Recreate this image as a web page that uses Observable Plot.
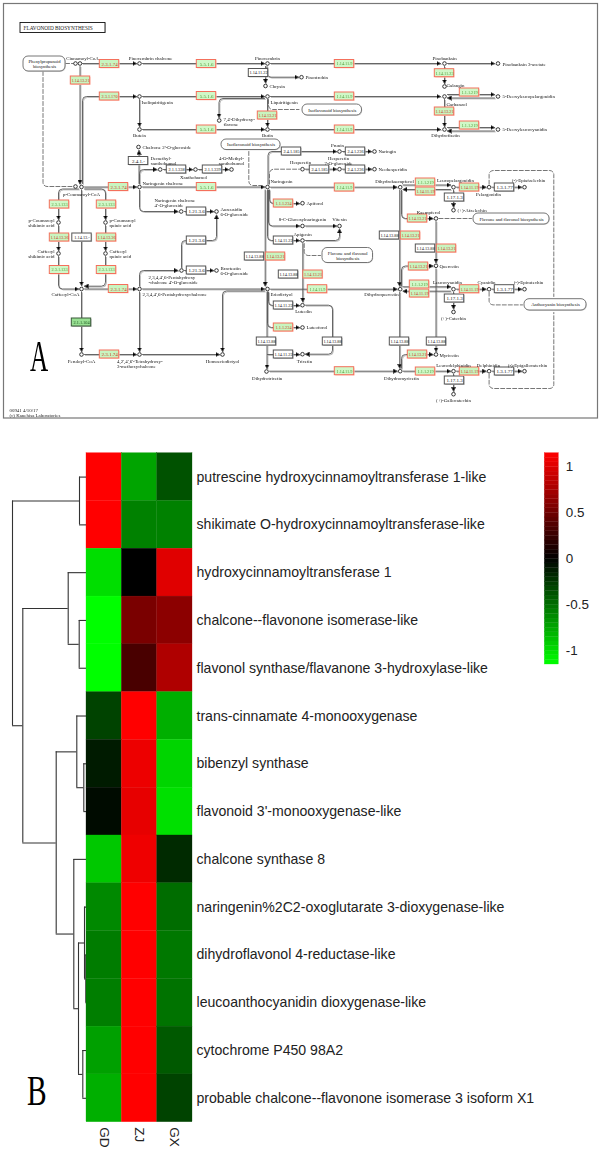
<!DOCTYPE html>
<html>
<head>
<meta charset="utf-8">
<script src="https://cdn.jsdelivr.net/npm/d3@7"></script>
<script src="https://cdn.jsdelivr.net/npm/@observablehq/plot@0.6"></script>
<style>
html,body{margin:0;padding:0;background:#fff}
#page{position:relative;width:602px;height:1150px;overflow:hidden;background:#fff}
#page svg{position:absolute;background:transparent;max-width:none}
.letter{position:absolute;font-family:"Liberation Serif",serif;color:#000;line-height:1;transform-origin:0 0}
</style>
</head>
<body>
<div id="page"></div>
<script>
// ---------- Panel B data ----------
const genes = [
  "putrescine hydroxycinnamoyltransferase 1-like",
  "shikimate O-hydroxycinnamoyltransferase-like",
  "hydroxycinnamoyltransferase 1",
  "chalcone--flavonone isomerase-like",
  "flavonol synthase/flavanone 3-hydroxylase-like",
  "trans-cinnamate 4-monooxygenase",
  "bibenzyl synthase",
  "flavonoid 3'-monooxygenase-like",
  "chalcone synthase 8",
  "naringenin%2C2-oxoglutarate 3-dioxygenase-like",
  "dihydroflavonol 4-reductase-like",
  "leucoanthocyanidin dioxygenase-like",
  "cytochrome P450 98A2",
  "probable chalcone--flavonone isomerase 3 isoform X1"
];
const samples = ["GD","ZJ","GX"];
const valuesGD = [1.15,1.15,-1.0,-1.15,-1.15,-0.3,-0.12,-0.05,-0.9,-0.62,-0.56,-0.57,-0.72,-0.79];
const valuesZJ = [-0.74,-0.58,0,0.55,0.33,1.15,1.07,1.04,1.08,1.15,1.15,1.15,1.15,1.15];
const valuesGX = [-0.37,-0.58,1.01,0.63,0.79,-0.79,-0.96,-1.01,-0.19,-0.49,-0.54,-0.52,-0.4,-0.3];
const colorTicks = [-1,-0.5,0,0.5,1];
// hclust-style merges: negative = leaf (row), positive = earlier merge; third value = height
const merges = [
  [-1,-2,7],[-4,-5,7.3],[-3,2,18.3],[-7,-8,2.7],[-6,4,9.7],[-11,-12,0.7],[-10,6,2],
  [-13,-14,3.7],[7,8,8],[-9,9,12.7],[5,10,30.3],[3,11,63.7],[1,12,74]
];

// ---------- Panel A data (KEGG map layout units) ----------
const hitsRed = [
  ["2.3.1.74",109,63.5],["1.14.13.21",80,80],["2.3.1.170",109,96],["1.14.13.21",267,115],
  ["1.14.13.21",444,111],["2.3.1.74",118,186.5],["1.1.1.234",283,203],["1.14.11.19",425,191],
  ["1.14.11.19",469,187],["1.14.13.36",59,237],["1.14.13.36",106,237],["2.3.1.74",118,288.5],
  ["2.3.1.74",109,354],["1.14.13.21",275,256],["1.14.13.21",312.5,274],["1.14.13.21",410,235],
  ["1.14.13.21",446,248],["1.14.13.21",417,218],["1.14.13.21",418,266],["1.14.13.21",417,354],
  ["1.14.11.19",419,293],["1.14.11.19",469,288.7],["1.14.11.19",469,371],["1.1.1.234",283,327]
];
const hitsGreen = [
  ["5.5.1.6",206,63.5],["1.14.11.9",344,63.5],["1.14.11.23",444,72.7],["5.5.1.6",206,95.5],
  ["1.14.11.9",344,96],["1.1.1.219",469,92],["5.5.1.6",206,129],["1.14.11.9",344,129],
  ["1.1.1.219",469,125],["5.5.1.6",206,186.5],["1.14.11.9",344,187],["1.1.1.219",425,182],
  ["2.3.1.133",59,204],["2.3.1.133",106,204],["2.3.1.133",59,269.5],["2.3.1.133",106,269.5],
  ["1.14.11.9",317,288.7],["1.1.1.219",419,284],["1.14.11.9",344,370.7],["1.1.1.219",425,371]
];
const hitsDark = [["2.1.1.104",81,322]];
const plainEnzymes = [
  ["1.14.11.22",258,72.5],["2.4.1.-",138,160.5],["2.1.1.338",176,169],["2.1.1.339",212,169],
  ["1.21.3.6",196,211],["1.21.3.6",196,240],["1.21.3.6",196,270],["2.4.1.185",291,151],
  ["2.4.1.236",355,151],["2.4.1.185",319,169],["2.4.1.236",355,169],["1.14.11.22",283,240],
  ["1.14.11.22",283,305],["1.14.11.22",283,354],["1.14.13.88",254,256],["1.14.13.88",288,274],
  ["1.14.13.88",389,235],["1.14.13.88",425,248],["1.14.13.88",266,341],["1.14.13.88",332,341],
  ["1.14.13.88",399,341],["1.14.13.88",436,341],["1.17.1.3",454,197],["1.17.1.3",454,298],
  ["1.17.1.3",454,380],["1.3.1.77",504,187],["1.3.1.77",504,288.7],["1.3.1.77",504,371],
  ["1.14.13.-",81.5,237]
];
// circle x, circle y, name, label x, label y, label anchor
const compounds = [
  [75,63,"",0,0,"m"],[79.5,63,"Cinnamoyl-CoA",82,57.5,"m"],[139,63,"Pinocembrin chalcone",150,57.5,"m"],
  [267,63,"Pinocembrin",267,57.5,"m"],[265,85.5,"Chrysin",269,86,"s"],[301,76.7,"Pinostrobin",305,77,"s"],
  [444,63,"Pinobanksin",444,57.5,"m"],[497.5,63,"Pinobanksin 3-acetate",502,63.5,"s"],[444,86,"Galangin",446,85,"s"],
  [139,96,"Isoliquiritigenin",141,102,"s"],[267,96,"Liquiritigenin",270,102,"s"],
  [139,129,"Butein",139,134.5,"m"],[267,129,"Butin",267,134.5,"m"],[444,96,"Garbanzol",446,103.5,"s"],
  [497.5,96,"5-Deoxyleucopelargonidin",502,96.3,"s"],[444,129,"Dihydrofisetin",445,134.7,"m"],
  [497.5,129,"5-Deoxyleucocyanidin",502,129,"s"],[218.7,120,"7,4'-Dihydroxy-\nflavone",223,121.5,"s"],
  [138,146.5,"Chalcone 2'-O-glucoside",142,147,"s"],[159.7,169,"Demethyl-\nxanthohumol",150,160.5,"s"],
  [195,169,"Xanthohumol",193,176.5,"m"],[231,169,"4-O-Methyl-\nxanthohumol",231,160.5,"m"],
  [139,186.5,"Naringenin chalcone",142,182.5,"s"],[267,186.5,"Naringenin",270,180.5,"s"],
  [75,186,"",0,0,"m"],[81,186.5,"p-Coumaroyl-CoA",81,194,"m"],
  [58,222,"p-Coumaroyl\nshikimic acid",54,222.5,"e"],[105,222,"p-Coumaroyl\nquinic acid",109,222.5,"s"],
  [58,253,"Caffeoyl\nshikimic acid",54,253.5,"e"],[105,253,"Caffeoyl\nquinic acid",109,253.5,"s"],
  [81,288.5,"Caffeoyl-CoA",65,294,"m"],[81,354,"Feruloyl-CoA",81,361,"m"],
  [139,288.5,"2,3,4,4',6-Pentahydroxychalcone",142,294,"s"],
  [181,270,"2,3,4,4',6-Pentahydroxy\n-chalcone 4'-O-glucoside",148,279.5,"s"],
  [180.7,211,"Naringenin chalcone\n4'-O-glucoside",154,202.5,"s"],
  [216,211,"Aureusidin\n6-O-glucoside",220,211.5,"s"],[216,270,"Bracteatin\n6-O-glucoside",220,270.5,"s"],
  [139,354,"4,2',4',6'-Tetrahydroxy-\n3-methoxychalcone",116.5,363.5,"s"],
  [222,354,"Homoeriodictyol",222,361,"m"],[267,288.5,"Eriodictyol",270,294,"s"],
  [266,371,"Dihydrotricetin",266.7,378,"m"],[339,151,"Prunin",337,144.5,"m"],[374,151,"Naringin",378,151.3,"s"],
  [302,168.7,"Hesperetin",300,162,"m"],[339,168.7,"Hesperetin\n7-O-glucoside",338,160.5,"m"],
  [374,168.7,"Neohesperidin",378,169,"s"],[399.7,186.7,"Dihydrokaempferol",394,180.5,"m"],
  [302,202.7,"Apiforol",306,203,"s"],[302,225.5,"8-C-Glucosylnaringenin",302,219,"m"],
  [339,225.5,"Vitexin",339,219,"m"],[302,240,"Apigenin",302,234,"m"],[302,304.7,"Luteolin",303,311,"m"],
  [302,327,"Luteoforol",306,327.3,"s"],[302,353.7,"Tricetin",304,360.5,"m"],
  [399.7,288.7,"Dihydroquercetin",381,294,"m"],[399.7,370.7,"Dihydromyricetin",401,378,"m"],
  [435.5,218,"Kaempferol",428,211.5,"m"],[435.5,265.3,"Quercetin",439,266,"s"],[435.5,354,"Myricetin",439,354.5,"s"],
  [453,186.7,"Leucopelargonidin",455,180,"m"],[488.6,186.7,"Pelargonidin",488,193.5,"m"],
  [524,186.7,"(-)-Epiafzelechin",528,180,"m"],[453,209.7,"(+)-Afzelechin",457,210,"s"],
  [453,288.7,"Leucocyanidin",447,282,"m"],[488.6,288.7,"Cyanidin",486,282,"m"],
  [524,288.7,"(-)-Epicatechin",528,282,"m"],[453,311.5,"(+)-Catechin",453,318,"m"],
  [453,370.7,"Leucodelphinidin",453,365,"m"],[488.6,370.7,"Delphinidin",488,365,"m"],
  [524,370.7,"(-)-Epigallocatechin",527,365,"m"],[453,393.7,"(+)-Gallocatechin",453,400,"m"]
];
// rounded pathway boxes: x1, x2, y1, y2, text
const pathwayBoxes = [
  [23,65,56,71,"Phenylpropanoid\nbiosynthesis"],[221,280,139,149.5,"Isoflavonoid biosynthesis"],
  [302,361.5,104,115,"Isoflavonoid biosynthesis"],[322,372.5,247.5,262.5,"Flavone and flavonol\nbiosynthesis"],
  [473,549,213,224,"Flavone and flavonol biosynthesis"],[524,586,298.7,310,"Anthocyanin biosynthesis"]
];
// reaction lines as x,y,x,y,...
const arrowEdges = [
  [82,63,136,63],[142,63,264,63],[270,63,440,63],[447,63,494,63],[444,66,444,83],
  [266.5,66,266.5,76.7,298,76.7],[265,66,265,82.5],[79.5,66,79.5,183.5],[82,183,82,96,136,96],
  [142,96,264,96],[270,96,440,96],[139,99,139,126],[142,129,264,129],[270,129,440,129],[267,99,267,126],
  [264,98,218.5,98,218.5,117],[444,99,444,126],[447,94,494,94],[494,97.5,447,97.5],[447,127,494,127],[494,130.5,447,130.5],
  [138.5,183,138.5,150],[139,183,139,169,156.5,169],[163,169,192,169],[198,169,228,169],
  [84,186.5,136,186.5],[142,186.5,264,186.5],[270,186.7,396.5,186.7],[139,189.5,139,211,177.5,211],
  [184,211,213,211],[184,270,213,270],[181,267,181,240,216,240,216,214.5],[139,291.5,139,351],
  [139,285.5,139,270,177.5,270],[142,288.5,264,288.5],[78,188.5,58,188.5,58,219],[84,188.5,105,188.5,105,219],
  [58,225,58,250],[105,225,105,250],[58,256,58,288.5,78,288.5],[105,256,105,285.7,84,285.7],
  [81,189.5,81,285],[81,291.5,81,351],[84,288.5,136,288.5],[84,354,136,354],[142,354,219,354],
  [264,290.5,222,290.5,222,351],[264.7,189.5,264.7,285.5],[267.5,183.5,267.5,151,336,151],
  [342,151,371,151],[305,168.7,336,168.7],[342,168.7,371,168.7],[269,189.5,269,203,299,203],
  [268,189.5,268,225.5,299,225.5],[305,225.5,336,225.5],[267,189.5,267,240,299,240],
  [305,240,339,240,339,228.5],[302.3,243,302.3,301.5],[268,291.5,268,305,299,305],[267,291.5,267,327,299,327],
  [266.5,291.5,266.5,368],[305,304.7,332,304.7,332,353.7,305,353.7],[267,354,299,354],[269,370.7,396.7,370.7],
  [270,288.7,396.7,288.7],[399.2,189.7,399.2,285.7],[399.2,291.7,399.2,367.7],[401,189.7,401,218,432.5,218],
  [435.5,221,435.5,262.3],[435.5,268.3,435.5,351],[401,285.7,401,265.5,432.5,265.5],[401,367.7,401,354,432.5,354],
  [402.5,184.5,450,184.5],[450,189,402.5,189],[456,186.7,485.6,186.7],[491.6,186.7,521,186.7],[453,189.7,453,206.7],
  [402.5,286.3,450,286.3],[450,290.7,402.5,290.7],[456,288.7,485.6,288.7],[491.6,288.7,521,288.7],[453,291.7,453,308.5],
  [402.7,370.7,450,370.7],[456,370.7,485.6,370.7],[491.6,370.7,521,370.7],[453,373.7,453,390.7]
];
const dashedEdges = [
  [42.5,71,42.5,186,73,186],[65,63,73,63],[268,99,268,109,298.5,109],[248.3,151,248.3,185,261,185],
  [269,183.5,269,168.7,299,168.7],[303.7,243,303.7,255,320,255],[438.5,218,471,218],
  [488.6,183.7,488.6,170,553.3,170,553.3,296],[488.6,291.7,488.6,304.4,522,304.4],[488.6,373.7,488.6,388,553.3,388,553.3,312]
];
const mapTitle = "FLAVONOID BIOSYNTHESIS";
const mapCredit = "00941 4/10/17\n(c) Kanehisa Laboratories";

// ---------- helpers ----------
const page = document.getElementById("page");
function place(svg, left, top){ svg.style.left = left+"px"; svg.style.top = top+"px"; page.appendChild(svg); return svg; }
const toLine = list => list.flatMap((e,i)=>{ const out=[]; for(let k=0;k<e.length;k+=2) out.push({id:i,x:e[k],y:e[k+1]}); return out; });
const rounded = ctx => { let p; return {
  areaStart(){},areaEnd(){},lineStart(){p=[];},
  point(x,y){p.push([x,y]);},
  lineEnd(){ ctx.moveTo(p[0][0],p[0][1]);
    for(let i=1;i<p.length-1;i++) ctx.arcTo(p[i][0],p[i][1],p[i+1][0],p[i+1][1],4);
    ctx.lineTo(p[p.length-1][0],p[p.length-1][1]); } }; };
const headMarker = (color, context) => {
  const ns="http://www.w3.org/2000/svg", doc=context.document;
  const m=doc.createElementNS(ns,"marker");
  m.setAttribute("viewBox","-4 -2.5 4.5 5"); m.setAttribute("markerUnits","userSpaceOnUse");
  m.setAttribute("markerWidth","4.5"); m.setAttribute("markerHeight","5");
  m.setAttribute("refX","0"); m.setAttribute("refY","0"); m.setAttribute("orient","auto");
  const a=doc.createElementNS(ns,"path"); a.setAttribute("d","M-4,-2.2L0,0L-4,2.2Z"); a.setAttribute("fill","#000");
  m.appendChild(a); return m; };
const toEnz = ([label,x,y]) => ({label,x,y});
const boxW = 9.7, boxH = 4;
const enzymeMarks = (list, opt) => {
  const d = list.map(toEnz);
  return [
    Plot.rect(d,{x1:e=>e.x-boxW+0.9,x2:e=>e.x+boxW+0.9,y1:e=>e.y-boxH+0.9,y2:e=>e.y+boxH+0.9,fill:opt.shadow}),
    Plot.rect(d,{x1:e=>e.x-boxW,x2:e=>e.x+boxW,y1:e=>e.y-boxH,y2:e=>e.y+boxH,fill:opt.fill,stroke:opt.stroke,strokeWidth:1}),
    Plot.text(d,{x:"x",y:"y",text:"label",fill:opt.text,fontSize:e=>e.label.length>=9?4.3:5})
  ];
};
const labelMarks = a => Plot.text(
  compounds.filter(c=>c[2] && c[5]===a).map(c=>({t:c[2],x:c[3],y:c[4]})),
  {x:"x",y:"y",text:"t",textAnchor:{s:"start",m:"middle",e:"end"}[a],fontSize:4.9,fill:"#111",lineHeight:1.05}
);

// ---------- Panel A ----------
const lineData = toLine(arrowEdges), dashData = toLine(dashedEdges);
const bx = pathwayBoxes.map(([x1,x2,y1,y2,t])=>({x1,x2,y1,y2,t,cx:(x1+x2)/2,cy:(y1+y2)/2}));
const panelA = Plot.plot({
  width:602,height:420,margin:0,
  style:{fontFamily:"'Liberation Serif',serif",background:"transparent"},
  x:{domain:[0,602],range:[0,602],axis:null},
  y:{domain:[0,420],range:[0,420],axis:null},
  marks:[
    Plot.rect([{x1:3.5,x2:597.5,y1:3.5,y2:418}],{x1:"x1",x2:"x2",y1:"y1",y2:"y2",fill:"#fff",stroke:"#777",strokeWidth:1.2}),
    Plot.rect([{x1:20.6,x2:105.6,y1:23,y2:33}],{x1:"x1",x2:"x2",y1:"y1",y2:"y2",fill:"#bbb"}),
    Plot.rect([{x1:20,x2:105,y1:22.5,y2:32.5}],{x1:"x1",x2:"x2",y1:"y1",y2:"y2",fill:"#fff",stroke:"#111",strokeWidth:0.9}),
    Plot.text([mapTitle],{x:23,y:28,text:d=>d,textAnchor:"start",fontSize:5.3,fill:"#222"}),
    Plot.text([mapCredit],{x:9,y:412.5,text:d=>d,textAnchor:"start",fontSize:4.9,fill:"#222",lineHeight:1.05}),
    Plot.line(lineData,{x:"x",y:"y",z:"id",curve:rounded,stroke:"#bbb",strokeWidth:1,dx:0.9,dy:0.9}),
    Plot.line(lineData,{x:"x",y:"y",z:"id",curve:rounded,stroke:"#555",strokeWidth:0.9,markerEnd:headMarker}),
    Plot.line(dashData,{x:"x",y:"y",z:"id",curve:rounded,stroke:"#666",strokeWidth:0.9,strokeDasharray:"4,2"}),
    Plot.rect(bx,{x1:d=>d.x1+0.7,x2:d=>d.x2+0.7,y1:d=>d.y1+0.7,y2:d=>d.y2+0.7,fill:"#ccc",rx:5}),
    Plot.rect(bx,{x1:"x1",x2:"x2",y1:"y1",y2:"y2",fill:"#fff",stroke:"#666",strokeWidth:0.9,rx:5}),
    Plot.text(bx,{x:"cx",y:"cy",text:"t",fontSize:4.7,fill:"#111",lineHeight:1.05}),
    ...enzymeMarks(plainEnzymes,{shadow:"#bbb",fill:"#fff",stroke:"#555",text:"#111"}),
    ...enzymeMarks(hitsRed,{shadow:"#ffd0c4",fill:"#c8f5c0",stroke:"#f4705c",text:"#c83a24"}),
    ...enzymeMarks(hitsGreen,{shadow:"#ffd0c4",fill:"#d0f8c8",stroke:"#f4705c",text:"#4f9a36"}),
    ...enzymeMarks(hitsDark,{shadow:"#bbb",fill:"#98e092",stroke:"#3a5a3a",text:"#14501a"}),
    Plot.dot(compounds.map(c=>({x:c[0],y:c[1]})),{x:"x",y:"y",r:1.8,fill:"#fff",stroke:"#222",strokeWidth:0.9}),
    labelMarks("s"),labelMarks("m"),labelMarks("e")
  ]
});
panelA.style.filter = "blur(0.3px)";
place(panelA,0,0);

// ---------- Panel B ----------
const colorScale = {type:"linear",domain:[-1.15,0,1.15],range:["#00ff00","#000000","#ff0000"]};
const cells = genes.flatMap((g,i)=>[
  {gene:g,sample:"GD",value:valuesGD[i]},
  {gene:g,sample:"ZJ",value:valuesZJ[i]},
  {gene:g,sample:"GX",value:valuesGX[i]}
]);
const heat = Plot.plot({
  width:516,height:710,marginLeft:0,marginRight:410,marginTop:12.7,marginBottom:28.3,
  style:{fontFamily:"'Liberation Sans',Arial,sans-serif",background:"transparent",overflow:"visible",color:"#222"},
  x:{domain:samples,padding:0,round:false,label:null},
  y:{domain:genes,padding:0,round:false,label:null},
  color:colorScale,
  marks:[
    Plot.cell(cells,{x:"sample",y:"gene",fill:"value",inset:0,stroke:"value",strokeWidth:0.3}),
    Plot.axisY({anchor:"right",tickSize:0,tickPadding:4,fontSize:14.1,label:null,lineWidth:Infinity}),
    Plot.axisX({anchor:"bottom",tickSize:0,tickPadding:5,fontSize:13.6,tickRotate:90,label:null})
  ]
});
place(heat,86,440);

// dendrogram built from the merge table
const nodes = [];
const nodeOf = k => k<0 ? {h:0,y:-k-0.5} : nodes[k-1];
const vRules=[], hRules=[];
merges.forEach(([a,b,h])=>{
  const A=nodeOf(a),B=nodeOf(b),y=(A.y+B.y)/2;
  vRules.push({h,y1:A.y,y2:B.y});
  hRules.push({y:A.y,x1:A.h,x2:h},{y:B.y,x1:B.h,x2:h});
  nodes.push({h,y});
});
const dendro = Plot.plot({
  width:86,height:690,margin:0,
  style:{background:"transparent"},
  x:{domain:[86,0],range:[0,86],axis:null},
  y:{domain:[0,genes.length],range:[12.7,681.7],axis:null},
  marks:[
    Plot.ruleX(vRules,{x:"h",y1:"y1",y2:"y2",stroke:"#333",strokeWidth:1.1}),
    Plot.ruleY(hRules,{y:"y",x1:"x1",x2:"x2",stroke:"#333",strokeWidth:1.1})
  ]
});
place(dendro,0,440);

// colour key
const keyStep = 2.3/46;
const keyLevels = d3.range(46).map(i=>({lo:-1.15+i*keyStep,hi:-1.15+(i+1)*keyStep,v:-1.15+(i+0.5)*keyStep}));
const key = Plot.plot({
  width:72,height:240,marginLeft:14.3,marginRight:43.7,marginTop:12.7,marginBottom:16,
  style:{fontFamily:"'Liberation Sans',Arial,sans-serif",background:"transparent",color:"#222"},
  x:{domain:[0,1],axis:null},
  y:{domain:[-1.15,1.15],label:null},
  color:colorScale,
  marks:[
    Plot.rectY(keyLevels,{x1:0,x2:1,y1:"lo",y2:"hi",fill:"v",stroke:"v",strokeWidth:0.3}),
    Plot.axisY({anchor:"right",ticks:colorTicks,tickFormat:d=>String(d),tickSize:0,tickPadding:7,fontSize:13.4,label:null})
  ]
});
place(key,530,440);

// panel letters
[["A",29.5,334,45,0.56],["B",26.5,1070,42,0.7]].forEach(([t,x,y,s,k])=>{
  const el=document.createElement("div"); el.className="letter"; el.textContent=t;
  el.style.left=x+"px"; el.style.top=y+"px"; el.style.fontSize=s+"px"; el.style.transform=`scaleX(${k})`;
  page.appendChild(el);
});
</script>
</body>
</html>
